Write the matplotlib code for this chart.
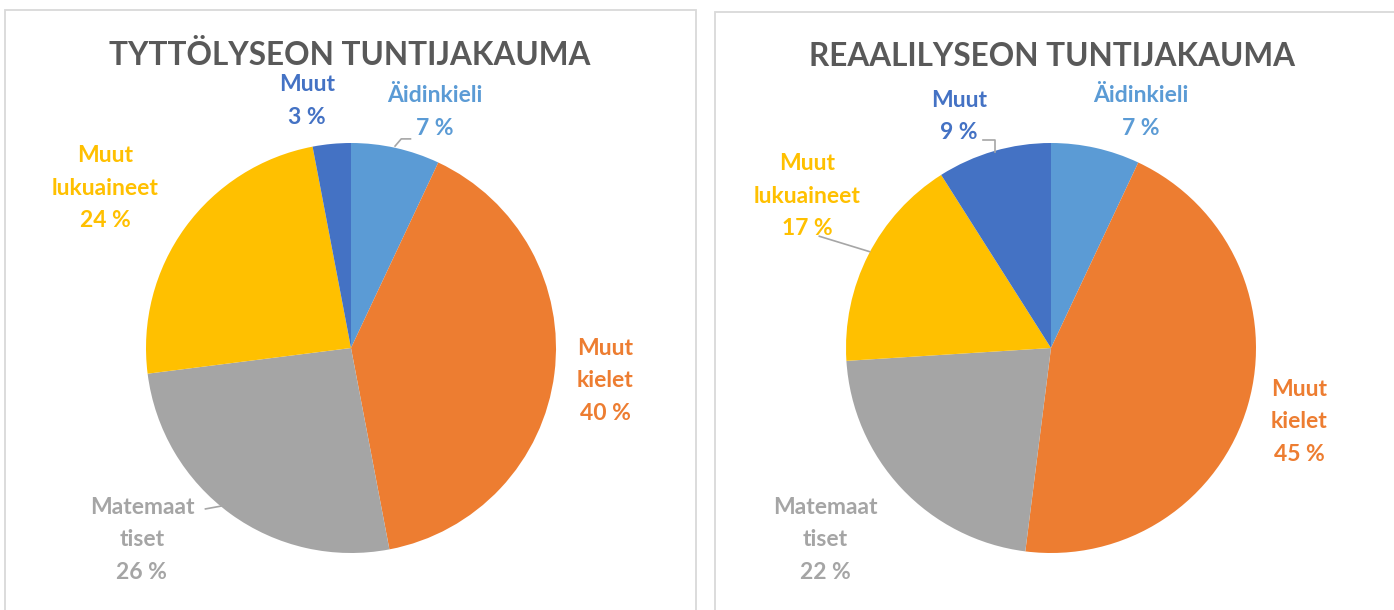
#!/usr/bin/env python3

import matplotlib
matplotlib.use('Agg')
from matplotlib import pyplot as plt
from matplotlib.patches import Rectangle
import numpy as np

# data
categories = ['Äidinkieli', 'Muut kielet', 'Matemaattiset', 'Muut lukuaineet', 'Muut']
label_texts = ['Äidinkieli', 'Muut\nkielet', 'Matemaat\ntiset', 'Muut\nlukuaineet', 'Muut']
tytto_values = [7, 40, 26, 24, 3]
reaali_values = [7, 45, 22, 17, 9]
titles = ['TYTTÖLYSEON TUNTIJAKAUMA', 'REAALILYSEON TUNTIJAKAUMA']

colors = ['#5B9BD5', '#ED7D31', '#A5A5A5', '#FFC000', '#4472C4']
FONT = ['Lato', 'DejaVu Sans']

W, H = 1394, 610
R = 205

# label centres, in units of the radius relative to the pie centre
tytto_label_pos = [(0.41, 1.15), (1.24, -0.16), (-1.02, -0.935), (-1.20, 0.78), (-0.215, 1.205)]
reaali_label_pos = [(0.44, 1.15), (1.21, -0.36), (-1.10, -0.935), (-1.19, 0.74), (-0.45, 1.13)]

# leader lines (fractions of radius), None if no line
tytto_leaders = [[(0.215, 0.985), (0.245, 1.02), (0.29, 1.02)], None,
                 [(-0.71, -0.785), (-0.60, -0.765)], None, None]
reaali_leaders = [None, None, None,
                  [(-1.13, 0.545), (-0.885, 0.47)],
                  [(-0.33, 1.015), (-0.273, 1.015), (-0.273, 0.955)]]


def draw_pie(ax, cx, cy, values, label_pos, leaders):
    ax.pie(values, colors=colors, startangle=90, counterclock=False,
           center=(cx, cy), radius=R, frame=True,
           wedgeprops=dict(linewidth=0))
    for i, v in enumerate(values):
        lx = cx + label_pos[i][0] * R
        ly = cy + label_pos[i][1] * R
        ax.text(lx, ly, '%s\n%d %%' % (label_texts[i], v), ha='center', va='center',
                color=colors[i], fontsize=16.5, fontweight='bold', family=FONT,
                linespacing=1.68)
        if leaders[i] is not None:
            pts = np.array(leaders[i]) * R
            ax.plot(cx + pts[:, 0], cy + pts[:, 1], color='#A6A6A6', linewidth=1.2)


fig = plt.figure(figsize=(W / 100, H / 100), dpi=100)
ax = fig.add_axes([0, 0, 1, 1])

draw_pie(ax, 351, H - 348, tytto_values, tytto_label_pos, tytto_leaders)
draw_pie(ax, 1051, H - 348, reaali_values, reaali_label_pos, reaali_leaders)

# panel frames
ax.add_patch(Rectangle((4.5, -5), 691.5, H - 9.5 + 5, fill=False, edgecolor='#D9D9D9', linewidth=1.3))
ax.add_patch(Rectangle((714.5, -5), 700, H - 11.5 + 5, fill=False, edgecolor='#D9D9D9', linewidth=1.3))

ax.text(350, H - 55, titles[0], ha='center', va='center', fontsize=22.7,
        fontweight='bold', color='#595959', family=FONT)
ax.text(1052, H - 57, titles[1], ha='center', va='center', fontsize=22.7,
        fontweight='bold', color='#595959', family=FONT)

ax.set_xlim(0, W)
ax.set_ylim(0, H)
ax.set_aspect('equal')
ax.axis('off')

plt.savefig('out.png', dpi=100)
